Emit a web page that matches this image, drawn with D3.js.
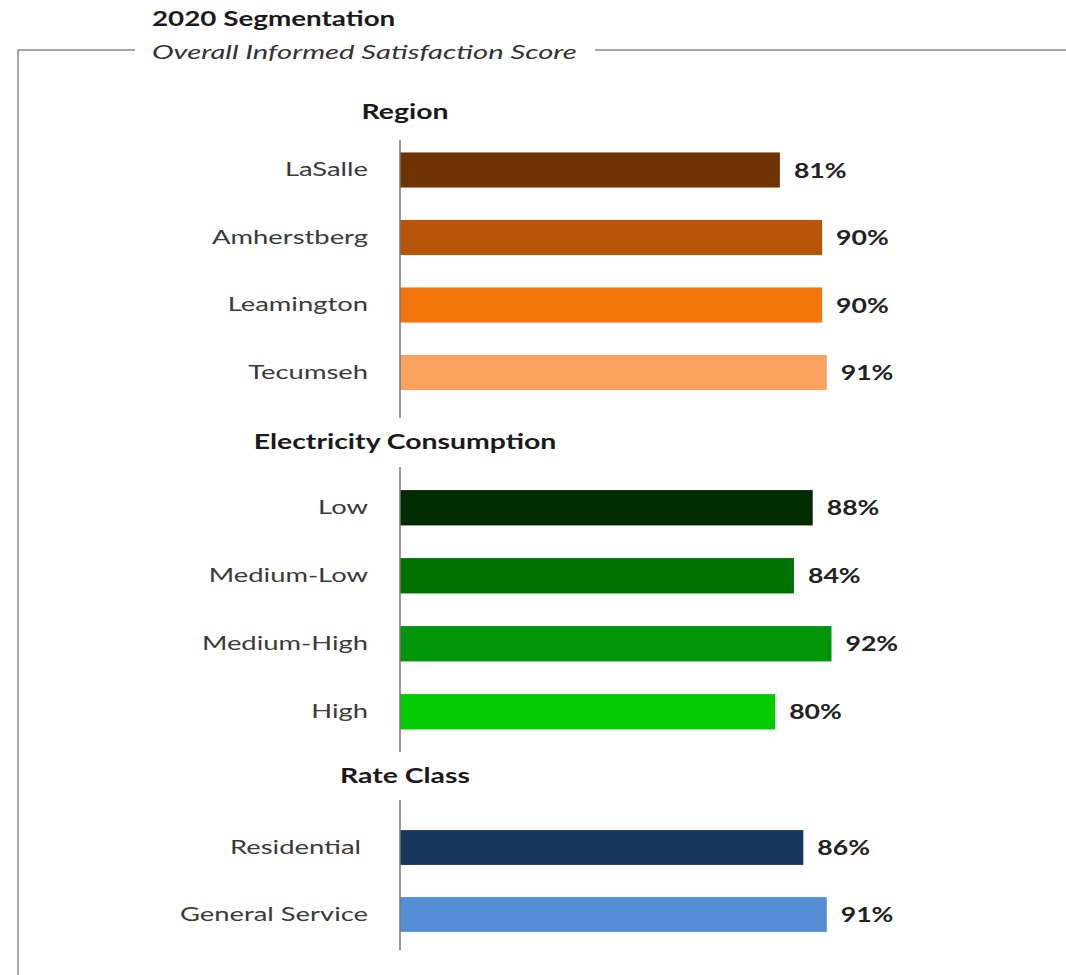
<!DOCTYPE html>
<html><head><meta charset="utf-8">
<script src="https://cdn.jsdelivr.net/npm/d3@7"></script>
<style>body{margin:0;background:#fff;} svg{display:block;} text{font-family:Lato,"Open Sans",sans-serif;white-space:pre;}</style>
</head><body>
<svg id="c" width="1066" height="975"></svg>
<script>
const title = "2020 Segmentation";
const subtitle = "Overall Informed Satisfaction Score";
const groupNames = ["Region", "Electricity Consumption", "Rate Class"];
const regionCats = ["LaSalle", "Amherstberg", "Leamington", "Tecumseh"];
const regionVals = [81, 90, 90, 91];
const regionColors = ["#6F3303", "#B85407", "#F4760B", "#F7A35F"];
const elecCats = ["Low", "Medium-Low", "Medium-High", "High"];
const elecVals = [88, 84, 92, 80];
const elecColors = ["#002C00", "#007200", "#00960A", "#00CC00"];
const rateCats = ["Residential ", "General Service"];
const rateVals = [86, 91];
const rateColors = ["#17365D", "#558ED5"];

const svg = d3.select("#c");
const x = d3.scaleLinear().domain([0, 100]).range([400, 869]);

function stext(parent, px, py, s) {
  return parent.append("text").attr("transform", `translate(${px},${py}) scale(${s},1)`);
}

// frame
const frameColor = "#8a8a8a";
svg.append("path").attr("d", "M18,975 V50 H135").attr("fill","none").attr("stroke",frameColor).attr("stroke-width",1.5);
svg.append("line").attr("x1",595).attr("x2",1066).attr("y1",50).attr("y2",50).attr("stroke",frameColor).attr("stroke-width",1.5);

stext(svg, 152, 26, 1.39).attr("font-size",20).attr("font-weight","bold").attr("fill","#1a1a1a").text(title);
stext(svg, 152, 59, 1.46).attr("font-size",20).attr("font-style","italic").attr("fill","#333").text(subtitle);

const groups = [
  {name: groupNames[0], cats: regionCats, vals: regionVals, colors: regionColors, headY: 111, axis: [140, 418], range: [136.25, 406.25]},
  {name: groupNames[1], cats: elecCats, vals: elecVals, colors: elecColors, headY: 441, axis: [467, 752], range: [473.75, 745.75]},
  {name: groupNames[2], cats: rateCats, vals: rateVals, colors: rateColors, headY: 775, axis: [800, 950], range: [814, 948]}
];

groups.forEach(g => {
  const y = d3.scaleBand().domain(g.cats).range(g.range).paddingInner(0.48).paddingOuter(0.24);
  stext(svg, 405, g.headY, 1.42).attr("text-anchor","middle").attr("dominant-baseline","central")
    .attr("font-size",20).attr("font-weight","bold").attr("fill","#1a1a1a").text(g.name);
  const gg = svg.append("g");
  gg.selectAll("rect").data(g.cats).join("rect")
    .attr("x", x(0)).attr("y", d => y(d)).attr("height", y.bandwidth())
    .attr("width", (d,i) => x(g.vals[i]) - x(0)).attr("fill", (d,i) => g.colors[i]);
  g.cats.forEach((d, i) => {
    const cy = y(d) + y.bandwidth()/2;
    stext(gg, 368, cy - 1.5, 1.37).attr("text-anchor","end").attr("dominant-baseline","central")
      .attr("font-size",20).attr("fill","#3a3a3a").text(d);
    stext(gg, x(g.vals[i]) + 14, cy, 1.33).attr("dominant-baseline","central")
      .attr("font-size",20).attr("font-weight","bold").attr("fill","#222").text(g.vals[i] + "%");
  });
  svg.append("line").attr("x1",400).attr("x2",400).attr("y1",g.axis[0]).attr("y2",g.axis[1]).attr("stroke","#777").attr("stroke-width",1.5);
});
</script>
</body></html>
